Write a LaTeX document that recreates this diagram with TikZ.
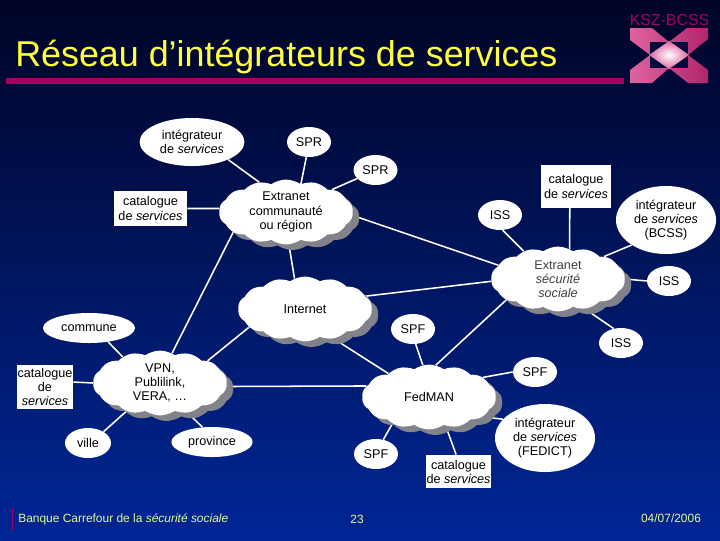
\documentclass[tikz,border=0pt]{standalone}
\usepackage{fontspec}
\setmainfont{Liberation Sans}
\usetikzlibrary{
  backgrounds,
  shadows,
  shapes.geometric,
  shapes.symbols
}
\definecolor{slidetop}{RGB}{0,4,38}
\definecolor{slidebottom}{RGB}{0,38,150}
\definecolor{titleyellow}{RGB}{255,255,60}
\definecolor{footyellow}{RGB}{225,250,140}
\definecolor{barmagenta}{RGB}{165,0,95}
\definecolor{logopink}{RGB}{222,100,160}
\definecolor{logodark}{RGB}{178,36,108}
\definecolor{cloudshadow}{RGB}{130,130,138}
\tikzset{
  body text/.style={
    font=\fontsize{9}{10}\selectfont,
    text=black,
    align=center
  },
  net cloud/.style={
    body text,
    cloud,
    cloud puffs=14,
    cloud puff arc=70,
    aspect=2,
    fill=white,
    inner sep=0pt,
    minimum width=3.35cm,
    minimum height=1.62cm,
    copy shadow={
      shadow xshift=0.16cm,
      shadow yshift=-0.14cm,
      fill=cloudshadow,
      draw=none
    }
  },
  actor/.style={
    body text,
    ellipse,
    fill=white,
    inner sep=0pt,
    minimum width=1.1cm,
    minimum height=0.75cm
  },
  catalogue box/.style={
    body text,
    rectangle,
    fill=white,
    inner sep=0pt
  },
  link/.style={
    white,
    line width=1.1pt
  },
  foot text/.style={
    font=\fontsize{8.5}{10}\selectfont,
    text=footyellow
  }
}
\begin{document}
\begin{tikzpicture}[x=0.025cm,y=-0.025cm]
  \useasboundingbox (0,0) rectangle (720,540);

  % ---------- en-tete ----------
  \node[font=\fontsize{25.5}{28}\selectfont,text=titleyellow,anchor=base west,inner sep=0pt]
    (titre) at (15,66) {Réseau d’intégrateurs de services};
  \fill[barmagenta] (6,78) rectangle (624,84);

  % logo
  \node[font=\fontsize{11.3}{13}\selectfont,text=barmagenta,inner sep=0pt]
    (logotexte) at (669.5,20) {KSZ-BCSS};
  \shade[left color=logopink,right color=logodark]
    (630,28) -- (652,28) -- (669,42) -- (687,28) -- (708,28)
    -- (708,39) -- (688,55) -- (708,70) -- (708,83)
    -- (688,83) -- (669,68) -- (652,83) -- (630,83)
    -- (630,70) -- (650,55) -- (630,40) -- cycle;
  \fill[slidetop!80!slidebottom] (650,42) rectangle (688,68);
  \shade[inner color=white,outer color=logopink]
    (649,55) -- (669,41) -- (689,55) -- (669,69) -- cycle;

  % ---------- nuages ----------
  \node[net cloud] (communaute) at (286,212)
    {Extranet\\communauté\\ou région};
  \node[net cloud,text=black!75] (securite) at (558,279)
    {Extranet\\\textit{sécurité}\\\textit{sociale}};
  \node[net cloud] (internet) at (305,309) {Internet};
  \node[net cloud] (vpn) at (160,383)
    {VPN,\\Publilink,\\VERA, \dots};
  \node[net cloud] (fedman) at (429,397) {FedMAN};

  % ---------- ellipses ----------
  \node[actor,minimum width=2.62cm,minimum height=1.2cm] (integrateur) at (192,142)
    {intégrateur\\de \textit{services}};
  \node[actor] (sprA) at (309,142) {SPR};
  \node[actor] (sprB) at (375.5,170) {SPR};
  \node[actor] (issA) at (500,215) {ISS};
  \node[actor,minimum width=2.5cm,minimum height=1.7cm] (bcss) at (666,220)
    {intégrateur\\de \textit{services}\\(BCSS)};
  \node[actor] (issB) at (669,281) {ISS};
  \node[actor] (issC) at (621,343) {ISS};
  \node[actor] (spfA) at (413,329) {SPF};
  \node[actor] (spfB) at (535,372) {SPF};
  \node[actor] (spfC) at (376,454) {SPF};
  \node[actor,minimum width=2.5cm,minimum height=1.7cm] (fedict) at (545,438)
    {intégrateur\\de \textit{services}\\(FEDICT)};
  \node[actor,minimum width=2.3cm] (commune) at (89,328) {commune};
  \node[actor,minimum width=1.15cm] (ville) at (88,443) {ville};
  \node[actor,minimum width=2.03cm] (province) at (212,442) {province};

  % ---------- catalogues ----------
  \node[catalogue box,minimum width=1.83cm,minimum height=0.88cm] (catA) at (150.5,208.5)
    {catalogue\\de \textit{services}};
  \node[catalogue box,minimum width=1.75cm,minimum height=1.07cm] (catB) at (576,186.5)
    {catalogue\\de \textit{services}};
  \node[catalogue box,minimum width=1.4cm,minimum height=1.1cm] (catC) at (45,387)
    {catalogue\\de\\\textit{services}};
  \node[catalogue box,minimum width=1.63cm,minimum height=0.83cm] (catD) at (458.5,471.5)
    {catalogue\\de \textit{services}};

  % ---------- pied de page ----------
  \draw[barmagenta,thin] (12,508) -- (12,530);
  \node[foot text,anchor=west,inner sep=0pt] (banque) at (18,519)
    {Banque Carrefour de la \textit{sécurité sociale}};
  \node[foot text,inner sep=0pt] (page) at (357,519) {23};
  \node[foot text,inner sep=0pt] (date) at (671,518) {04/07/2006};

  % ---------- fond et liaisons ----------
  \begin{scope}[on background layer]
    \shade[top color=slidetop,bottom color=slidebottom] (0,0) rectangle (720,540);

    % autour du nuage communaute
    \draw[link] (integrateur.334) -- (communaute.132);
    \draw[link] (sprA.260) -- (communaute.62);
    \draw[link] (sprB.205) -- (communaute.26);
    \draw[link] (catA.east) -- (communaute.177);
    \draw[link] (communaute.201) -- (vpn.68);
    \draw[link] (communaute.275) -- (internet.109);
    \draw[link] (communaute.357) -- (securite.167);

    % autour du nuage securite sociale
    \draw[link] (issA.280) -- (securite.141);
    \draw[link] (catB.254) -- (securite.69);
    \draw[link] (bcss.216) -- (securite.26);
    \draw[link] (issB.west) -- (securite.0);
    \draw[link] (issC.117) -- (securite.312);
    \draw[link] (internet.12) -- (securite.182);
    \draw[link] (securite.202) -- (fedman.78);

    % autour du nuage vpn
    \draw[link] (internet.314) -- (fedman.150);
    \draw[link] (vpn.357) -- (fedman.170);
    \draw[link] (vpn.25) -- (internet.198);
    \draw[link] (commune.324) -- (vpn.145);
    \draw[link] (catC.10) -- (vpn.180);
    \draw[link] (ville.36) -- (vpn.220);
    \draw[link] (province.123) -- (vpn.313);

    % autour du nuage fedman
    \draw[link] (spfA.280) -- (fedman.101);
    \draw[link] (spfB.west) -- (fedman.20);
    \draw[link] (fedict.156) -- (fedman.340);
    \draw[link] (catD.98) -- (fedman.300);
    \draw[link] (spfC.63) -- (fedman.216);
  \end{scope}
\end{tikzpicture}
\end{document}
